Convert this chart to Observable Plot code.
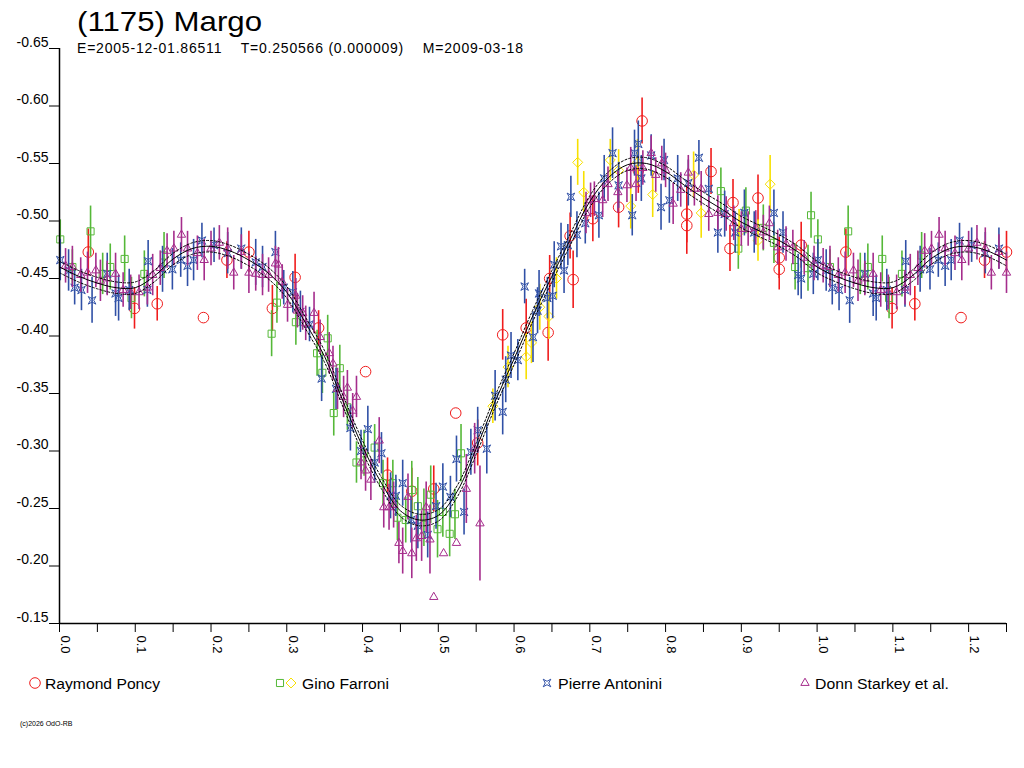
<!DOCTYPE html>
<html><head><meta charset="utf-8">
<script src="https://cdn.jsdelivr.net/npm/d3@7"></script>
<script src="https://cdn.jsdelivr.net/npm/@observablehq/plot@0.6"></script>
<style>
html,body{margin:0;padding:0;background:#fff;}
#wrap{position:relative;width:1024px;height:768px;overflow:hidden;}
#wrap svg{position:absolute;left:0;top:0;}
</style></head><body><div id="wrap"></div>
<script>
// ---- texts ----
const titleText = "(1175) Margo";
const subtitleText = "E=2005-12-01.86511    T=0.250566 (0.000009)    M=2009-03-18";
const copyrightText = "(c)2026 OdO-RB";
const seriesNames = ["Raymond Poncy", "Gino Farroni", "Pierre Antonini", "Donn Starkey et al."];

// ---- axes ----
const yTickValues = [-0.65, -0.60, -0.55, -0.50, -0.45, -0.40, -0.35, -0.30, -0.25, -0.20, -0.15];
const xTickValues = [0, 0.05, 0.1, 0.15, 0.2, 0.25, 0.3, 0.35, 0.4, 0.45, 0.5, 0.55, 0.6, 0.65, 0.7, 0.75, 0.8, 0.85, 0.9, 0.95, 1.0, 1.05, 1.1, 1.15, 1.2, 1.25];
const xLabelValues = [0, 0.1, 0.2, 0.3, 0.4, 0.5, 0.6, 0.7, 0.8, 0.9, 1.0, 1.1, 1.2];

// ---- fitted curve (phase 0..1) ----
const fitPhase = [0,0.025,0.05,0.075,0.1,0.125,0.15,0.175,0.2,0.225,0.25,0.275,0.3,0.325,0.35,0.375,0.4,0.425,0.45,0.475,0.5,0.525,0.55,0.575,0.6,0.625,0.65,0.675,0.7,0.725,0.75,0.775,0.8,0.825,0.85,0.875,0.9,0.925,0.95,0.975,1.0];
const fitMag = [-0.460,-0.452,-0.446,-0.442,-0.442,-0.452,-0.467,-0.476,-0.478,-0.474,-0.466,-0.455,-0.438,-0.411,-0.382,-0.342,-0.304,-0.272,-0.248,-0.240,-0.244,-0.265,-0.302,-0.343,-0.380,-0.418,-0.452,-0.485,-0.517,-0.538,-0.549,-0.550,-0.543,-0.531,-0.520,-0.510,-0.499,-0.491,-0.483,-0.473,-0.460];
const fitSpread = 0.005;

// ---- observations: [phase, magnitude, error] ----
const poncy = [
[0.038,-0.473,0.020],[0.099,-0.424,0.018],[0.129,-0.428,0.015],[0.190,-0.416,0],[0.221,-0.466,0.016],
[0.250,-0.473,0.018],[0.281,-0.424,0.020],[0.311,-0.451,0.020],[0.342,-0.407,0.015],[0.404,-0.369,0],
[0.433,-0.279,0.015],[0.465,-0.265,0.020],[0.494,-0.267,0.020],[0.523,-0.333,0],[0.552,-0.307,0.020],
[0.585,-0.401,0.022],[0.616,-0.407,0.025],[0.645,-0.403,0.025],[0.647,-0.450,0.020],[0.674,-0.487,0.020],
[0.678,-0.449,0.025],[0.704,-0.502,0.020],[0.738,-0.512,0.018],[0.764,-0.544,0.020],[0.769,-0.587,0.020],
[0.828,-0.506,0.025],[0.828,-0.496,0.025],[0.860,-0.543,0.020],[0.885,-0.476,0.020],[0.889,-0.516,0.020],
[0.922,-0.520,0.020],[0.950,-0.468,0.018],[0.950,-0.458,0.018],[0.979,-0.479,0.020]
];
const farroniGreen = [
[0.001,-0.484,0.017],[0.017,-0.460,0.015],[0.041,-0.491,0.022],[0.057,-0.454,0.018],[0.067,-0.460,0.020],
[0.086,-0.467,0.020],[0.095,-0.433,0.018],[0.112,-0.454,0.020],[0.138,-0.470,0.020],[0.280,-0.402,0.020],
[0.287,-0.429,0.018],[0.312,-0.412,0.020],[0.340,-0.385,0.020],[0.347,-0.368,0.018],[0.354,-0.398,0.020],
[0.362,-0.333,0.020],[0.370,-0.372,0.020],[0.380,-0.338,0.020],[0.392,-0.290,0.018],[0.402,-0.298,0.020],
[0.416,-0.303,0.020],[0.427,-0.272,0.020],[0.440,-0.272,0.020],[0.446,-0.242,0.020],[0.457,-0.240,0.020],
[0.465,-0.266,0.025],[0.473,-0.252,0.025],[0.481,-0.242,0.025],[0.490,-0.262,0.025],[0.499,-0.232,0.025],
[0.506,-0.247,0.022],[0.515,-0.228,0.020],[0.522,-0.245,0.022],[0.530,-0.298,0.025],[0.873,-0.526,0.020],
[0.896,-0.476,0.018],[0.906,-0.509,0.020],[0.929,-0.494,0.020],[0.943,-0.481,0.018],[0.971,-0.460,0.020],
[0.988,-0.459,0.020],[0.992,-0.505,0.020]
];
const farroniYellow = [
[0.572,-0.339,0.015],[0.592,-0.373,0.018],[0.616,-0.382,0.020],[0.623,-0.394,0.018],[0.634,-0.425,0.020],
[0.646,-0.417,0.020],[0.656,-0.450,0.018],[0.684,-0.551,0.020],[0.692,-0.525,0.018],[0.727,-0.553,0.018],
[0.738,-0.544,0.018],[0.754,-0.513,0.020],[0.763,-0.551,0.020],[0.783,-0.523,0.020],[0.837,-0.540,0.020],
[0.847,-0.507,0.022],[0.897,-0.490,0.020],[0.922,-0.483,0.018],[0.938,-0.532,0.025]
];
const antonini = [
[0.001,-0.466,0.018],[0.012,-0.457,0.018],[0.020,-0.442,0.015],[0.029,-0.440,0.018],[0.043,-0.431,0.020],
[0.063,-0.454,0.018],[0.074,-0.437,0.020],[0.078,-0.433,0.020],[0.092,-0.440,0.018],[0.116,-0.440,0.015],
[0.117,-0.465,0.018],[0.136,-0.458,0.020],[0.149,-0.458,0.018],[0.160,-0.466,0.015],[0.169,-0.461,0.018],
[0.177,-0.466,0.018],[0.188,-0.483,0.015],[0.204,-0.479,0.015],[0.222,-0.472,0.018],[0.240,-0.476,0.018],
[0.259,-0.464,0.020],[0.268,-0.460,0.018],[0.285,-0.473,0.018],[0.296,-0.442,0.015],[0.308,-0.438,0.018],
[0.318,-0.421,0.018],[0.330,-0.410,0.015],[0.346,-0.363,0.020],[0.365,-0.354,0.018],[0.384,-0.320,0.020],
[0.398,-0.300,0.018],[0.407,-0.319,0.020],[0.416,-0.290,0.018],[0.425,-0.298,0.018],[0.437,-0.261,0.020],
[0.444,-0.261,0.018],[0.453,-0.272,0.020],[0.464,-0.240,0.020],[0.473,-0.235,0.020],[0.486,-0.227,0.020],
[0.497,-0.252,0.020],[0.506,-0.269,0.020],[0.516,-0.260,0.018],[0.524,-0.293,0.020],[0.534,-0.247,0.020],
[0.543,-0.299,0.020],[0.552,-0.318,0.020],[0.564,-0.302,0.022],[0.575,-0.348,0.022],[0.585,-0.334,0.020],
[0.589,-0.362,0.020],[0.596,-0.383,0.020],[0.605,-0.379,0.018],[0.614,-0.443,0.015],[0.625,-0.399,0.022],
[0.631,-0.422,0.020],[0.633,-0.437,0.020],[0.644,-0.433,0.018],[0.651,-0.435,0.020],[0.653,-0.462,0.020],
[0.662,-0.478,0.020],[0.666,-0.457,0.020],[0.671,-0.479,0.018],[0.675,-0.521,0.018],[0.683,-0.488,0.020],
[0.694,-0.498,0.018],[0.712,-0.505,0.020],[0.719,-0.537,0.020],[0.730,-0.559,0.022],[0.738,-0.531,0.020],
[0.756,-0.505,0.018],[0.759,-0.559,0.020],[0.764,-0.567,0.020],[0.768,-0.537,0.020],[0.781,-0.557,0.018],
[0.794,-0.512,0.020],[0.798,-0.553,0.018],[0.805,-0.518,0.020],[0.816,-0.537,0.020],[0.830,-0.533,0.020],
[0.844,-0.555,0.015],[0.857,-0.528,0.020],[0.869,-0.490,0.018],[0.878,-0.506,0.020],[0.892,-0.490,0.018],
[0.904,-0.507,0.020],[0.917,-0.490,0.018],[0.943,-0.507,0.020],[0.955,-0.490,0.018],[0.975,-0.453,0.018],
[0.979,-0.450,0.018],[0.995,-0.454,0.018]
];
const starkey = [
[0.008,-0.461,0.015],[0.017,-0.460,0.018],[0.028,-0.453,0.015],[0.037,-0.455,0.018],[0.048,-0.457,0.015],
[0.054,-0.448,0.018],[0.063,-0.450,0.015],[0.074,-0.454,0.018],[0.084,-0.440,0.015],[0.094,-0.438,0.015],
[0.105,-0.438,0.015],[0.116,-0.442,0.015],[0.123,-0.453,0.018],[0.133,-0.459,0.015],[0.142,-0.474,0.015],
[0.151,-0.476,0.015],[0.161,-0.488,0.015],[0.169,-0.476,0.015],[0.182,-0.472,0.015],[0.191,-0.466,0.018],
[0.200,-0.476,0.015],[0.211,-0.481,0.015],[0.222,-0.476,0.018],[0.230,-0.455,0.015],[0.240,-0.473,0.015],
[0.250,-0.455,0.018],[0.259,-0.454,0.015],[0.268,-0.453,0.018],[0.276,-0.453,0.015],[0.285,-0.463,0.015],
[0.289,-0.462,0.015],[0.294,-0.447,0.015],[0.301,-0.427,0.015],[0.312,-0.435,0.015],[0.314,-0.422,0.015],
[0.321,-0.420,0.015],[0.325,-0.411,0.015],[0.336,-0.420,0.018],[0.344,-0.399,0.015],[0.356,-0.385,0.018],
[0.361,-0.376,0.015],[0.367,-0.354,0.018],[0.375,-0.347,0.018],[0.380,-0.355,0.015],[0.387,-0.335,0.015],
[0.392,-0.347,0.018],[0.398,-0.290,0.015],[0.404,-0.283,0.018],[0.411,-0.275,0.018],[0.422,-0.309,0.020],
[0.428,-0.251,0.018],[0.435,-0.251,0.020],[0.441,-0.253,0.020],[0.448,-0.220,0.018],[0.453,-0.213,0.020],
[0.460,-0.260,0.020],[0.465,-0.211,0.022],[0.471,-0.224,0.020],[0.478,-0.226,0.022],[0.484,-0.251,0.022],
[0.489,-0.223,0.030],[0.494,-0.173,0],[0.507,-0.211,0],[0.524,-0.220,0],[0.537,-0.267,0.030],
[0.548,-0.302,0.022],[0.555,-0.237,0.050],[0.695,-0.507,0.018],[0.701,-0.518,0.015],[0.706,-0.519,0.015],
[0.717,-0.518,0.015],[0.724,-0.532,0.015],[0.737,-0.525,0.018],[0.749,-0.531,0.015],[0.754,-0.546,0.018],
[0.761,-0.532,0.015],[0.770,-0.546,0.015],[0.781,-0.559,0.015],[0.787,-0.540,0.015],[0.795,-0.550,0.015],
[0.800,-0.544,0.015],[0.810,-0.515,0.018],[0.820,-0.527,0.015],[0.830,-0.542,0.015],[0.838,-0.528,0.015],
[0.847,-0.528,0.015],[0.857,-0.506,0.015],[0.869,-0.507,0.015],[0.880,-0.506,0.015],[0.890,-0.498,0.015],
[0.900,-0.493,0.015],[0.909,-0.493,0.015],[0.919,-0.494,0.015],[0.929,-0.490,0.015],[0.937,-0.498,0.015],
[0.948,-0.477,0.015],[0.959,-0.480,0.015],[0.968,-0.477,0.015],[0.983,-0.468,0.015],[0.996,-0.463,0.015]
];

// ---- colours ----
const cRed = "#f01c1c", cGreen = "#55b838", cYellow = "#f7e000", cBlue = "#3050a6", cMagenta = "#a52d8c";

// ---- helpers ----
const PMAX = 1.25;
function expand(rows) {
  const out = [];
  for (const [p, m, e] of rows) {
    out.push({p, m, e});
    if (p + 1 <= PMAX) out.push({p: p + 1, m, e});
  }
  return out;
}
const fitData = fitPhase.map((p, i) => ({p, m: fitMag[i]}));
for (let i = 1; i < fitPhase.length; i++) if (fitPhase[i] + 1 <= PMAX) fitData.push({p: fitPhase[i] + 1, m: fitMag[i]});

const starSymbol = {
  draw(ctx, size) {
    const s = Math.sqrt(size / Math.PI);
    const k = s * 0.45;
    ctx.moveTo(-s, -s); ctx.lineTo(0, -k); ctx.lineTo(s, -s); ctx.lineTo(k, 0);
    ctx.lineTo(s, s); ctx.lineTo(0, k); ctx.lineTo(-s, s); ctx.lineTo(-k, 0); ctx.closePath();
  }
};

const series = [
  {rows: poncy, color: cRed, symbol: "circle", r: 5.3},
  {rows: farroniGreen, color: cGreen, symbol: "square", r: 4},
  {rows: farroniYellow, color: cYellow, symbol: "diamond2", r: 4.5},
  {rows: antonini, color: cBlue, symbol: starSymbol, r: 3.8},
  {rows: starkey, color: cMagenta, symbol: "triangle", r: 3.1}
];

const marks = [];
for (const s of series) {
  const data = expand(s.rows);
  marks.push(Plot.ruleX(data.filter(d => d.e > 0), {x: "p", y1: d => d.m - d.e, y2: d => d.m + d.e, stroke: s.color, strokeWidth: 1.6}));
  marks.push(Plot.dot(data, {x: "p", y: "m", symbol: s.symbol, r: s.r, stroke: s.color, fill: "none", strokeWidth: 1}));
}
marks.push(Plot.line(fitData, {x: "p", y: d => d.m - fitSpread, curve: "catmull-rom", stroke: "#000", strokeWidth: 1, strokeDasharray: "2,2"}));
marks.push(Plot.line(fitData, {x: "p", y: d => d.m + fitSpread, curve: "catmull-rom", stroke: "#000", strokeWidth: 1, strokeDasharray: "2,2"}));
marks.push(Plot.line(fitData, {x: "p", y: "m", curve: "catmull-rom", stroke: "#000", strokeWidth: 1}));

// axes
marks.push(Plot.axisY({ticks: yTickValues, tickSize: 10, tickFormat: () => "", label: null, stroke: "#000"}));
marks.push(Plot.text(yTickValues, {y: d => d, frameAnchor: "left", text: d => d.toFixed(2), textAnchor: "end", dx: -11, dy: -6, fontSize: 14, fill: "#000"}));
marks.push(Plot.axisX({ticks: xTickValues, tickSize: 9, tickFormat: () => "", label: null, stroke: "#000"}));
marks.push(Plot.text(xLabelValues, {x: d => d, frameAnchor: "bottom", text: d => d.toFixed(1), rotate: 90, textAnchor: "start", lineAnchor: "middle", dx: 6, dy: 12, fontSize: 13, fill: "#000"}));
marks.push(Plot.ruleX([0], {stroke: "#000", strokeWidth: 1.5}));
marks.push(Plot.ruleY([-0.15], {stroke: "#000", strokeWidth: 1.5}));

const chart = Plot.plot({
  width: 1024, height: 768,
  marginLeft: 59, marginRight: 18, marginTop: 48, marginBottom: 145,
  x: {domain: [0, PMAX], label: null},
  y: {domain: [-0.15, -0.65], label: null},
  style: {fontFamily: "'Liberation Sans', Arial, sans-serif", background: "#fff", overflow: "visible"},
  marks
});
const wrap = document.getElementById("wrap");
wrap.appendChild(chart);

// ---- overlay: title, subtitle, legend, copyright ----
const ov = d3.create("svg").attr("width", 1024).attr("height", 768)
  .style("font-family", "'Liberation Sans', Arial, sans-serif").style("pointer-events", "none");
ov.append("text").attr("x", 77).attr("y", 31).attr("font-size", 28).attr("textLength", 185).attr("lengthAdjust", "spacingAndGlyphs").text(titleText);
ov.append("text").attr("x", 77).attr("y", 53).attr("font-size", 14).attr("textLength", 446).attr("lengthAdjust", "spacing").attr("xml:space", "preserve").style("white-space", "pre").text(subtitleText);

const legendY = 683;
const legendItems = [
  {name: seriesNames[0], x: 35, marks: [{symbol: d3.symbolCircle, r: 5.3, color: cRed, dx: 0}], tx: 45, tl: 115},
  {name: seriesNames[1], x: 280, marks: [{symbol: d3.symbolSquare, r: 4, color: cGreen, dx: 0}, {symbol: d3.symbolDiamond2, r: 4.5, color: cYellow, dx: 11}], tx: 302, tl: 87},
  {name: seriesNames[2], x: 547, marks: [{symbol: starSymbol, r: 3.8, color: cBlue, dx: 0}], tx: 558, tl: 104},
  {name: seriesNames[3], x: 805, marks: [{symbol: d3.symbolTriangle, r: 3.1, color: cMagenta, dx: 0}], tx: 815, tl: 134}
];
for (const it of legendItems) {
  for (const m of it.marks) {
    ov.append("path").attr("transform", `translate(${it.x + m.dx},${legendY})`)
      .attr("d", d3.symbol(m.symbol, Math.PI * m.r * m.r)())
      .attr("fill", "none").attr("stroke", m.color).attr("stroke-width", 1);
  }
  ov.append("text").attr("x", it.tx).attr("y", legendY + 5.5).attr("font-size", 15.5)
    .attr("textLength", it.tl).attr("lengthAdjust", "spacingAndGlyphs").text(it.name);
}
ov.append("text").attr("x", 20).attr("y", 726).attr("font-size", 7).text(copyrightText);
wrap.appendChild(ov.node());
</script>
</body></html>
